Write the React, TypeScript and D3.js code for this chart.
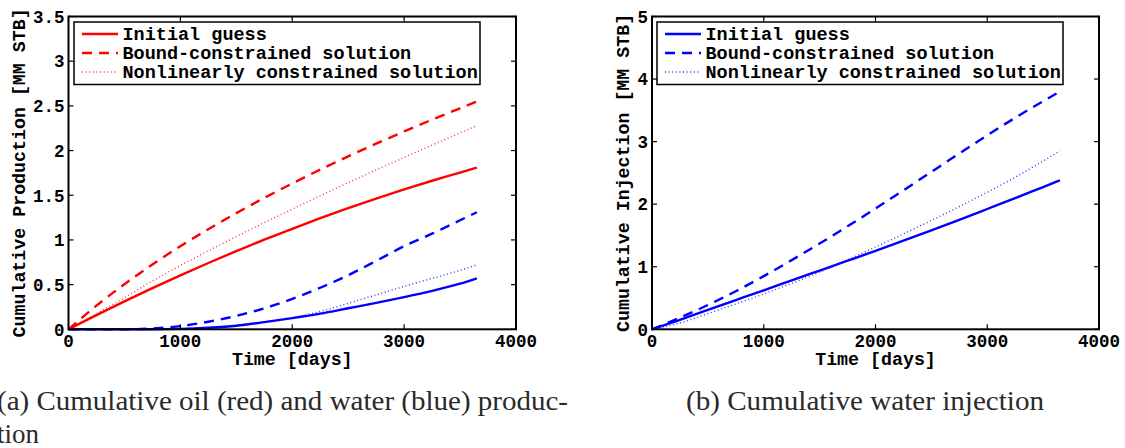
import React from "react";
import * as d3 from "d3";

// ---- data ----
const days = [0, 250, 500, 750, 1000, 1250, 1500, 1750, 2000, 2250, 2500, 2750, 3000, 3250, 3500, 3650];

// Panel (a): cumulative production [MM STB]
const oilInitial = [0, 0.159, 0.312, 0.46, 0.604, 0.742, 0.875, 1.003, 1.125, 1.243, 1.356, 1.463, 1.565, 1.662, 1.754, 1.81];
const oilBound = [0, 0.265, 0.505, 0.725, 0.93, 1.12, 1.3, 1.47, 1.632, 1.787, 1.935, 2.077, 2.214, 2.346, 2.473, 2.55];
const oilNonlinear = [0, 0.175, 0.355, 0.54, 0.714, 0.878, 1.037, 1.193, 1.345, 1.494, 1.64, 1.783, 1.923, 2.061, 2.197, 2.28];
const waterInitial = [0, 0, 0, 0, 0.005, 0.018, 0.04, 0.08, 0.125, 0.175, 0.235, 0.295, 0.36, 0.43, 0.51, 0.57];
const waterBound = [0, 0, 0, 0.01, 0.035, 0.085, 0.15, 0.235, 0.34, 0.465, 0.605, 0.765, 0.93, 1.07, 1.22, 1.31];
const waterNonlinear = [0, 0, 0, 0, 0.005, 0.018, 0.04, 0.08, 0.13, 0.2, 0.29, 0.385, 0.48, 0.57, 0.66, 0.72];

// Panel (b): cumulative injection [MM STB]
const injInitial = [0, 0.152, 0.31, 0.467, 0.624, 0.782, 0.939, 1.096, 1.254, 1.416, 1.583, 1.751, 1.923, 2.096, 2.274, 2.38];
const injBound = [0, 0.187, 0.388, 0.609, 0.85, 1.106, 1.371, 1.646, 1.932, 2.222, 2.516, 2.811, 3.101, 3.381, 3.647, 3.8];
const injNonlinear = [0, 0.1, 0.25, 0.405, 0.565, 0.735, 0.915, 1.11, 1.315, 1.525, 1.74, 1.96, 2.19, 2.43, 2.69, 2.85];

const xTicks = [0, 1000, 2000, 3000, 4000];
const prodTicks = [0, 0.5, 1, 1.5, 2, 2.5, 3, 3.5];
const injTicks = [0, 1, 2, 3, 4, 5];
const legendLabels = ["Initial guess", "Bound-constrained solution", "Nonlinearly constrained solution"];
const captionA1 = "(a) Cumulative oil (red) and water (blue) produc-";
const captionA2 = "tion";
const captionB = "(b) Cumulative water injection";

const RED = "#ff0000";
const BLUE = "#0000ff";
const MONO = "'Liberation Mono', 'Courier New', monospace";
const SERIF = "'Liberation Serif', 'Times New Roman', serif";

const lineStyles = [
  { dash: undefined as string | undefined, width: 2.4, opacity: 1 },
  { dash: "10,7", width: 2.4, opacity: 1 },
  { dash: "1,2.6", width: 1.4, opacity: 0.8 },
];

type Series = { values: number[]; color: string; style: number };

function Panel(props: {
  x0: number;
  x1: number;
  yMax: number;
  yTicks: number[];
  yLabel: string;
  yLabelX: number;
  series: Series[];
  legendColor: string;
  legendX0: number;
  legendX1: number;
}) {
  const top = 16.5;
  const bottom = 329.3;
  const x = d3.scaleLinear().domain([0, 4000]).range([props.x0, props.x1]);
  const y = d3.scaleLinear().domain([0, props.yMax]).range([bottom, top]);
  const line = d3
    .line<number>()
    .x((_, i) => x(days[i]))
    .y((v) => y(v))
    .curve(d3.curveMonotoneX);
  const tl = 5;
  const legTop = 22;
  const legBottom = 84.5;
  const rowBase = [40, 59, 78];
  return (
    <g>
      {props.series.map((s, i) => {
        const st = lineStyles[s.style];
        return (
          <path
            key={i}
            d={line(s.values) || ""}
            fill="none"
            stroke={s.color}
            strokeWidth={st.width}
            strokeDasharray={st.dash}
            strokeOpacity={st.opacity}
          />
        );
      })}
      {/* axes box */}
      <rect
        x={props.x0}
        y={top}
        width={props.x1 - props.x0}
        height={bottom - top}
        fill="none"
        stroke="#000"
        strokeWidth={2}
      />
      {/* x ticks */}
      {xTicks.map((t) => (
        <g key={"xt" + t}>
          <line x1={x(t)} x2={x(t)} y1={bottom} y2={bottom - tl} stroke="#000" strokeWidth={1.2} />
          <line x1={x(t)} x2={x(t)} y1={top} y2={top + tl} stroke="#000" strokeWidth={1.2} />
          <text
            x={x(t)}
            y={347}
            textAnchor="middle"
            fontFamily={MONO}
            fontWeight="bold"
            fontSize={17.5}
            fill="#000"
          >
            {String(t)}
          </text>
        </g>
      ))}
      {/* y ticks */}
      {props.yTicks.map((t) => (
        <g key={"yt" + t}>
          <line x1={props.x0} x2={props.x0 + tl} y1={y(t)} y2={y(t)} stroke="#000" strokeWidth={1.2} />
          <line x1={props.x1} x2={props.x1 - tl} y1={y(t)} y2={y(t)} stroke="#000" strokeWidth={1.2} />
          <text
            x={props.x0 - 4}
            y={y(t)}
            dy="0.36em"
            textAnchor="end"
            fontFamily={MONO}
            fontWeight="bold"
            fontSize={17.5}
            fill="#000"
          >
            {String(t)}
          </text>
        </g>
      ))}
      {/* axis labels */}
      <text
        x={(props.x0 + props.x1) / 2}
        y={365}
        textAnchor="middle"
        fontFamily={MONO}
        fontWeight="bold"
        fontSize={18.3}
        fill="#000"
      >
        Time [days]
      </text>
      <text
        transform={`translate(${props.yLabelX},${(top + bottom) / 2}) rotate(-90)`}
        textAnchor="middle"
        fontFamily={MONO}
        fontWeight="bold"
        fontSize={18.3}
        fill="#000"
      >
        {props.yLabel}
      </text>
      {/* legend */}
      <rect
        x={props.legendX0}
        y={legTop}
        width={props.legendX1 - props.legendX0}
        height={legBottom - legTop}
        fill="#fff"
        stroke="#000"
        strokeWidth={1.5}
      />
      {legendLabels.map((lab, i) => {
        const st = lineStyles[i];
        return (
          <g key={lab}>
            <line
              x1={props.legendX0 + 8}
              x2={props.legendX0 + 44}
              y1={rowBase[i] - 6}
              y2={rowBase[i] - 6}
              stroke={props.legendColor}
              strokeWidth={st.width}
              strokeDasharray={st.dash}
              strokeOpacity={st.opacity}
            />
            <text
              x={props.legendX0 + 48.5}
              y={rowBase[i]}
              fontFamily={MONO}
              fontWeight="bold"
              fontSize={18.5}
              fill="#000"
            >
              {lab}
            </text>
          </g>
        );
      })}
    </g>
  );
}

export default function App() {
  return (
    <svg
      width={1125}
      height={448}
      style={{ position: "absolute", left: 0, top: 0, background: "#fff" }}
    >
      <rect x={0} y={0} width={1125} height={448} fill="#fff" />
      <Panel
        x0={68.5}
        x1={516}
        yMax={3.5}
        yTicks={prodTicks}
        yLabel="Cumulative Production [MM STB]"
        yLabelX={25}
        legendColor={RED}
        legendX0={74}
        legendX1={480}
        series={[
          { values: waterInitial, color: BLUE, style: 0 },
          { values: waterBound, color: BLUE, style: 1 },
          { values: waterNonlinear, color: BLUE, style: 2 },
          { values: oilInitial, color: RED, style: 0 },
          { values: oilBound, color: RED, style: 1 },
          { values: oilNonlinear, color: RED, style: 2 },
        ]}
      />
      <Panel
        x0={652}
        x1={1099}
        yMax={5}
        yTicks={injTicks}
        yLabel="Cumulative Injection [MM STB]"
        yLabelX={628.5}
        legendColor={BLUE}
        legendX0={657}
        legendX1={1063}
        series={[
          { values: injInitial, color: BLUE, style: 0 },
          { values: injBound, color: BLUE, style: 1 },
          { values: injNonlinear, color: BLUE, style: 2 },
        ]}
      />
      <text x={-3} y={410} fontFamily={SERIF} fontSize={27} fill="#2a2a2a" textLength={571} lengthAdjust="spacingAndGlyphs">
        {captionA1}
      </text>
      <text x={-3} y={443} fontFamily={SERIF} fontSize={27} fill="#2a2a2a">
        {captionA2}
      </text>
      <text x={686} y={410} fontFamily={SERIF} fontSize={27} fill="#2a2a2a" textLength={358} lengthAdjust="spacingAndGlyphs">
        {captionB}
      </text>
    </svg>
  );
}
